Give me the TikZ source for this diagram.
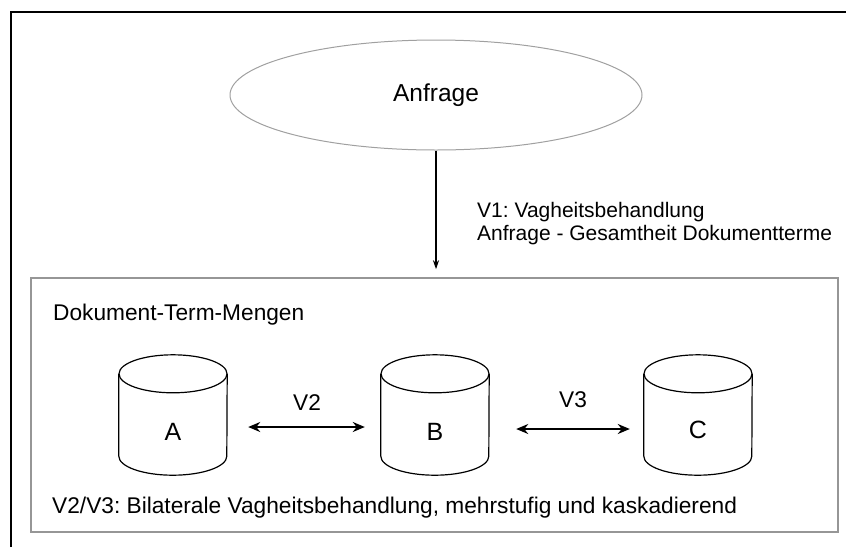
\documentclass[tikz,border=0pt]{standalone}
\usepackage{fontspec}
\setmainfont{Liberation Sans}
\frenchspacing
\usetikzlibrary{arrows.meta,shapes.geometric}
\definecolor{boxgray}{RGB}{150,150,150}
\definecolor{ellgray}{RGB}{160,160,160}
\tikzset{
  txt/.style={font=\fontsize{22.7}{23}\selectfont, inner sep=0pt},
  smalltxt/.style={font=\fontsize{21}{23}\selectfont, inner sep=0pt},
  bigtxt/.style={font=\fontsize{24.5}{28}\selectfont, inner sep=0pt},
  cyltxt/.style={font=\fontsize{25}{28}\selectfont, inner sep=0pt},
  cylbox/.style={minimum width=108pt, minimum height=120pt, inner sep=0pt, draw=none},
  cylline/.style={draw=black, line width=1.2pt},
  dblarrow/.style={line width=2pt, {Stealth[length=12pt,width=10pt]}-{Stealth[length=12pt,width=10pt]}},
  downarrow/.style={line width=2pt, -{Stealth[length=9pt,width=6pt]}},
}
\begin{document}
\begin{tikzpicture}[x=1pt,y=1pt]
\useasboundingbox (0,0) rectangle (846,-547);
% outer frame (cropped)
\draw[line width=2.2pt, black] (11,-547) -- (11,-12) -- (846,-12);
% query ellipse
\node[ellipse, draw=ellgray, line width=1pt, minimum width=412pt, minimum height=110pt, inner sep=0pt] (Q) at (436,-95) {};
\node[bigtxt] (Qlab) at (436,-95) {Anfrage};
% document term set box
\node[draw=boxgray, line width=1.5pt, minimum width=807pt, minimum height=254pt, inner sep=0pt] (dtm) at (434.5,-405) {};
\node[txt, anchor=base west] (dtmlab) at (53,-320) {Dokument-Term-Mengen};
\node[txt, anchor=base west] (foot) at (52,-513) {V2/V3: Bilaterale Vagheitsbehandlung, mehrstufig und kaskadierend};
% V1 arrow and label
\draw[downarrow] (Q.south) -- ([yshift=8pt]Q.south |- dtm.north);
\node[smalltxt, anchor=base west, align=left] (v1) at (477,-240) {V1: Vagheitsbehandlung\\Anfrage - Gesamtheit Dokumentterme};
% cylinders
\node[cylbox] (A) at (173,-415) {};
\node[cylbox] (B) at (435,-415) {};
\node[cylbox] (C) at (698,-415) {};
\foreach \n in {A,B,C}{
  \draw[cylline] ([yshift=-19pt]\n.north) ellipse [x radius=54pt, y radius=19pt];
  \draw[cylline] ([yshift=-19pt]\n.north west) -- ([yshift=19pt]\n.south west)
     arc[start angle=180, end angle=360, x radius=54pt, y radius=19pt] -- ([yshift=-19pt]\n.north east);
}
\node[cyltxt] (Alab) at (173,-432) {A};
\node[cyltxt] (Blab) at (435,-432) {B};
\node[cyltxt] (Clab) at (698,-430) {C};
% bilateral arrows
\draw[dblarrow] ([shift={(21pt,-12pt)}]A.east) -- ([shift={(-16pt,-12pt)}]B.west);
\draw[dblarrow] ([shift={(27pt,-14pt)}]B.east) -- ([shift={(-14pt,-14pt)}]C.west);
\node[txt] (v2) at (307,-403) {V2};
\node[txt] (v3) at (573,-400) {V3};
\end{tikzpicture}
\end{document}
